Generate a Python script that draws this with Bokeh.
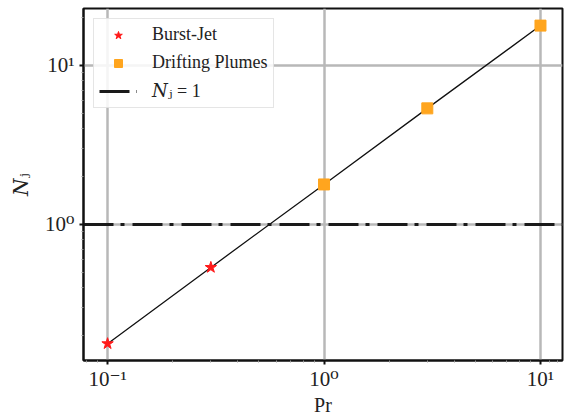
from bokeh.plotting import figure
from bokeh.models import (Range1d, FixedTicker, CustomJSTickFormatter, Legend, LegendItem)
from bokeh.embed import file_html
from bokeh.resources import INLINE

pr_all = [0.1, 0.3, 1.0, 3.0, 10.0]
nj_all = [0.178, 0.537, 1.785, 5.37, 17.8]
burst_pr = [0.1, 0.3]
burst_nj = [0.178, 0.537]
plume_pr = [1.0, 3.0, 10.0]
plume_nj = [1.785, 5.37, 17.8]
threshold = [1.0]
x_major = [0.1, 1.0, 10.0]
y_major = [1.0, 10.0]
x_minor = [0.08, 0.09, 0.2, 0.3, 0.4, 0.5, 0.6, 0.7, 0.8, 0.9,
           2, 3, 4, 5, 6, 7, 8, 9, 11, 12]
y_minor = [0.2, 0.3, 0.4, 0.5, 0.6, 0.7, 0.8, 0.9,
           2, 3, 4, 5, 6, 7, 8, 9, 20]

SERIF = "'Liberation Serif', 'DejaVu Serif', serif"

p = figure(frame_width=479, frame_height=352,
           min_border_left=83, min_border_right=5, min_border_top=8, min_border_bottom=56,
           x_axis_type="log", y_axis_type="log",
           x_range=Range1d(0.0774, 12.64), y_range=Range1d(0.1395, 22.8),
           output_backend="svg", toolbar_location=None,
           background_fill_color="white", border_fill_color="white")

p.outline_line_color = "#111111"
p.outline_line_width = 2
p.outline_line_alpha = 1

fmt = CustomJSTickFormatter(code="""
const e = Math.round(Math.log10(tick));
const sup = {'-':'\u207b','0':'\u2070','1':'\u00b9','2':'\u00b2','3':'\u00b3'};
return '10' + String(e).split('').map(c => sup[c]).join('');
""")

p.xaxis.ticker = FixedTicker(ticks=x_major, minor_ticks=x_minor)
p.yaxis.ticker = FixedTicker(ticks=y_major, minor_ticks=y_minor)
for ax in (p.xaxis, p.yaxis):
    ax.formatter = fmt
    ax.major_label_text_font = SERIF
    ax.major_label_text_font_size = "21px"
    ax.major_label_text_color = "#222222"
    ax.axis_label_text_font = SERIF
    ax.axis_label_text_font_size = "20px"
    ax.axis_label_text_color = "#222222"
    ax.axis_label_text_font_style = "normal"
    ax.axis_line_color = "#111111"
    ax.axis_line_width = 2
    ax.major_tick_line_color = "#111111"
    ax.major_tick_line_width = 2
    ax.major_tick_in = 0
    ax.major_tick_out = 4
    ax.minor_tick_line_color = "#999999"
    ax.minor_tick_in = 0
    ax.minor_tick_out = 2

p.xaxis.major_label_standoff = 2
p.yaxis.major_label_standoff = 5
p.xaxis.axis_label = "Pr"
p.xaxis.axis_label_standoff = 0
p.yaxis.axis_label = "\U0001D441\u2C7C"
p.yaxis.axis_label_standoff = 10

p.grid.grid_line_color = "#b8b8b8"
p.grid.grid_line_width = 2.5
p.xgrid.ticker = FixedTicker(ticks=x_major)
p.ygrid.ticker = FixedTicker(ticks=y_major)

p.line(pr_all, nj_all, line_color="#111111", line_width=1.3)
hs = p.hspan(y=threshold, line_color="#1a1a1a", line_width=3, line_dash="30 7 4 8")
r1 = p.scatter(burst_pr, burst_nj, marker="star", size=12, fill_color="#ff1a1a",
               line_color="#ff1a1a")
r2 = p.scatter(plume_pr, plume_nj, marker="square", size=11, fill_color="#ffa51e",
               line_color="#ffa51e")

legend = Legend(items=[LegendItem(label="Burst-Jet", renderers=[r1]),
                       LegendItem(label="Drifting Plumes", renderers=[r2]),
                       LegendItem(label="\U0001D441\u2C7C = 1", renderers=[hs])],
                location="top_left", margin=10, padding=5, spacing=7,
                glyph_width=38, glyph_height=20, label_height=20,
                label_standoff=15,
                label_text_font=SERIF, label_text_font_size="18px",
                label_text_color="#222222",
                border_line_color="#cccccc", border_line_width=1.5,
                background_fill_color="white", background_fill_alpha=0.85)
p.add_layout(legend)

open("out.html", "w").write(file_html(p, INLINE))
